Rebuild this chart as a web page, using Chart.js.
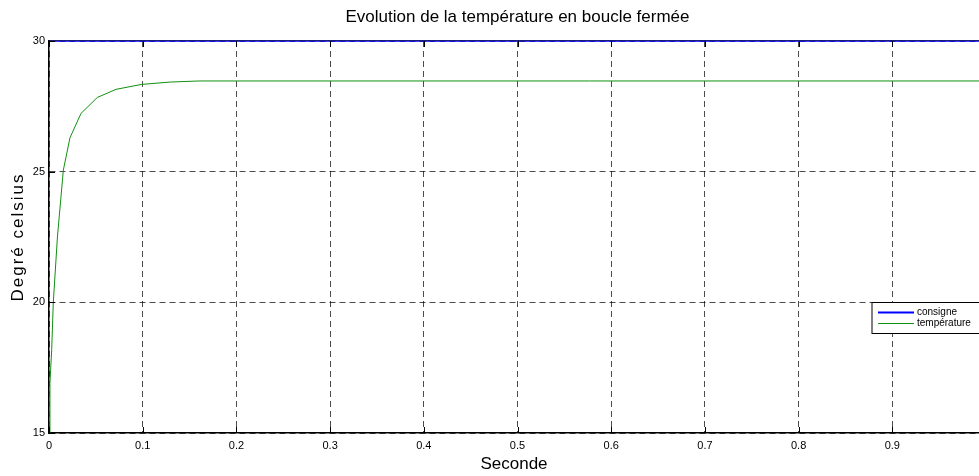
<!DOCTYPE html>
<html>
<head>
<meta charset="utf-8">
<script src="https://cdn.jsdelivr.net/npm/chart.js@4.4.0/dist/chart.umd.min.js"></script>
<style>
    html, body { margin: 0; padding: 0; background: #fff; }
    #box { width: 979px; height: 476px; }
</style>
</head>
<body>
<div id="box"><canvas id="line-chart" width="979" height="476"></canvas></div>
<script>
// valeurs
var consigneX = [0, 1];
var consigneY = [30, 30];
var tempX = [0, 0.001, 0.0029, 0.0046, 0.009, 0.0153, 0.0224, 0.0342, 0.0516, 0.0715, 0.099, 0.13, 0.16, 1];
var tempY = [15, 16.9, 18.2, 20, 22.5, 25.06, 26.3, 27.23, 27.84, 28.15, 28.34, 28.43, 28.47, 28.47];
var xTicks = [0, 0.1, 0.2, 0.3, 0.4, 0.5, 0.6, 0.7, 0.8, 0.9];
var yTicks = [15, 20, 25, 30];
var seriesNames = ["consigne", "température"];
var seriesColors = ["#0000ff", "#109010"];
var chartTitle = "Evolution de la température en boucle fermée";

function toPoints(xs, ys) {
    return xs.map(function (x, i) { return {x: x, y: ys[i]}; });
}

var FONT = "Arial, 'Liberation Sans', sans-serif";

// cadre, petits traits, légende, titres
var decor = {
    id: "decor",
    afterDraw: function (chart) {
        var ctx = chart.ctx;
        var a = chart.chartArea;
        var xs = chart.scales.x, ys = chart.scales.y;
        ctx.save();
        ctx.strokeStyle = "rgba(0,0,0,0.55)";
        ctx.lineWidth = 1;
        ctx.beginPath();
        ctx.moveTo(a.left, a.top - 0.5); ctx.lineTo(a.right, a.top - 0.5);
        ctx.stroke();

        ctx.strokeStyle = "#000";
        ctx.beginPath();
        xTicks.forEach(function (t) {
            var px = Math.round(xs.getPixelForValue(t)) + 0.5;
            ctx.moveTo(px, a.bottom); ctx.lineTo(px, a.bottom - 6);
            ctx.moveTo(px, a.top); ctx.lineTo(px, a.top + 6);
        });
        yTicks.forEach(function (t) {
            var py = Math.round(ys.getPixelForValue(t)) + 0.5;
            ctx.moveTo(a.left, py); ctx.lineTo(a.left + 6, py);
        });
        ctx.stroke();

        // légende
        var lx = a.right - 107, ly = Math.round(ys.getPixelForValue(20)) + 0.5;
        ctx.fillStyle = "#fff";
        ctx.fillRect(lx, ly, 200, 31);
        ctx.strokeStyle = "#000";
        ctx.strokeRect(lx, ly, 200, 31);
        ctx.font = "10px " + FONT;
        ctx.textBaseline = "middle";
        ctx.textAlign = "left";
        seriesNames.forEach(function (name, i) {
            var yy = ly + 10 + i * 11;
            ctx.strokeStyle = seriesColors[i];
            ctx.lineWidth = i == 0 ? 2 : 1;
            ctx.beginPath();
            ctx.moveTo(lx + 6, yy); ctx.lineTo(lx + 42, yy);
            ctx.stroke();
            ctx.fillStyle = "#000";
            ctx.fillText(name, lx + 45, yy);
        });

        // titre du graphique, centré sur l'axe complet 0..1
        ctx.font = "17px " + FONT;
        ctx.textAlign = "center";
        ctx.fillText(chartTitle, xs.getPixelForValue(0.5), 17);

        // titre axe y
        ctx.translate(18, (a.top + a.bottom) / 2);
        ctx.rotate(-Math.PI / 2);
        ctx.font = "17px " + FONT;
        ctx.letterSpacing = "2px";
        ctx.fillText("Degré celsius", 0, 0);
        ctx.restore();
    }
};

new Chart(document.getElementById("line-chart"), {
    type: "scatter",
    data: {
        datasets: [
            {
                label: seriesNames[0],
                data: toPoints(consigneX, consigneY),
                showLine: true,
                borderColor: seriesColors[0],
                borderWidth: 1.5,
                pointRadius: 0,
                clip: 4
            },
            {
                label: seriesNames[1],
                data: toPoints(tempX, tempY),
                showLine: true,
                borderColor: seriesColors[1],
                borderWidth: 1,
                pointRadius: 0
            }
        ]
    },
    options: {
        responsive: false,
        animation: false,
        layout: {padding: {top: 41, left: 0, right: 0, bottom: 0}},
        plugins: {
            legend: {display: false},
            tooltip: {enabled: false},
            title: {display: false}
        },
        scales: {
            x: {
                type: "linear",
                min: 0,
                max: 0.9925,
                afterFit: function (s) { s.height = 43; },
                afterBuildTicks: function (s) { s.ticks = xTicks.map(function (v) { return {value: v}; }); },
                ticks: {
                    color: "#000",
                    font: {family: FONT, size: 11},
                    padding: 6,
                    maxRotation: 0,
                    callback: function (v) { return String(v); }
                },
                grid: {
                    color: "rgba(0,0,0,0.7)",
                    drawTicks: false,
                    tickLength: 0
                },
                border: {display: true, color: "#000", width: 1.5, dash: [6, 4]},
                title: {
                    display: true,
                    text: "Seconde",
                    color: "#000",
                    font: {family: FONT, size: 17},
                    padding: {top: 0, bottom: 1}
                }
            },
            y: {
                min: 15,
                max: 30,
                afterFit: function (s) { s.width = 49; },
                afterBuildTicks: function (s) { s.ticks = yTicks.map(function (v) { return {value: v}; }); },
                ticks: {
                    color: "#000",
                    font: {family: FONT, size: 11},
                    padding: 4
                },
                grid: {
                    color: "rgba(0,0,0,0.7)",
                    drawTicks: false,
                    tickLength: 0
                },
                border: {display: true, color: "#000", width: 1.5, dash: [6, 4]}
            }
        }
    },
    plugins: [decor]
});
</script>
</body>
</html>
